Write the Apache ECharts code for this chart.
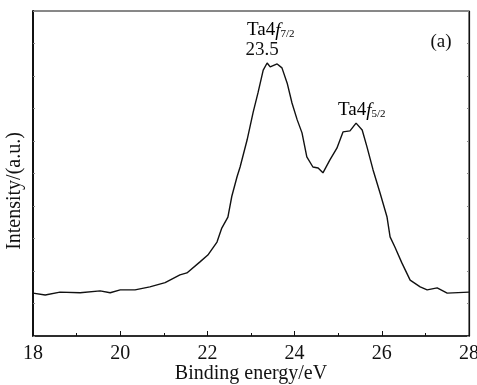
<!DOCTYPE html>
<html>
<head>
<meta charset="utf-8">
<script src="https://cdn.jsdelivr.net/npm/echarts@6/dist/echarts.min.js"></script>
<style>
html,body{margin:0;padding:0;background:#fff;}
#c{width:477px;height:385px;}
</style>
</head>
<body>
<div id="c"></div>
<script>
var energy = [18.00,18.28,18.62,19.08,19.54,19.77,20.00,20.34,20.68,21.03,21.14,21.37,21.53,21.83,22.01,22.22,22.33,22.47,22.56,22.68,22.75,22.91,23.05,23.16,23.28,23.37,23.44,23.60,23.71,23.83,23.94,24.06,24.17,24.28,24.42,24.54,24.65,24.81,24.97,25.11,25.27,25.41,25.55,25.66,25.80,25.96,26.12,26.19,26.30,26.46,26.65,26.88,27.04,27.27,27.50,28.00];
var intensity = [13.2,12.6,13.5,13.3,13.9,13.3,14.2,14.2,15.1,16.4,17.2,18.8,19.4,22.8,24.9,28.9,33.2,36.6,43.0,49.0,52.0,60.3,68.9,74.8,81.8,84.0,82.8,83.7,82.5,77.8,71.7,66.5,62.5,55.1,52.0,51.7,50.2,54.2,57.8,62.8,63.1,65.5,63.4,58.2,51.1,44.0,36.6,30.5,27.4,22.5,17.2,15.1,14.2,14.8,13.2,13.5];
var xTicks = [18,20,22,24,26,28];
var xTitle = 'Binding energy/eV';
var yTitle = 'Intensity/(a.u.)';

var font = '"Liberation Serif","Times New Roman",serif';
var chart = echarts.init(document.getElementById('c'));
var data = energy.map(function(e,i){return [e,intensity[i]];});
var rich = {
  n:{fontFamily:font,fontSize:19,color:'#111',lineHeight:20,verticalAlign:'bottom'},
  i:{fontFamily:font,fontSize:19,fontStyle:'italic',color:'#111',lineHeight:20,verticalAlign:'bottom'},
  s:{fontFamily:font,fontSize:11,color:'#111',lineHeight:6,verticalAlign:'bottom'}
};
chart.setOption({
  animation:false,
  grid:{left:33,right:8,top:11,bottom:49,show:true,borderColor:'#111',borderWidth:1,containLabel:false,outerBoundsMode:'none'},
  xAxis:[{
    type:'value',min:xTicks[0],max:xTicks[xTicks.length-1],interval:2,
    name:xTitle,nameLocation:'middle',nameGap:28,nameMoveOverlap:false,
    nameTextStyle:{fontFamily:font,fontSize:20,color:'#111',verticalAlign:'top',lineHeight:20},
    axisLine:{lineStyle:{color:'#111',width:1.5}},
    axisTick:{inside:true,length:5,lineStyle:{color:'#111'}},
    minorTick:{show:true,splitNumber:2,length:3,lineStyle:{color:'#111'}},
    axisLabel:{fontFamily:font,fontSize:20,color:'#111',margin:8},
    splitLine:{show:false}
  }],
  yAxis:[{
    type:'value',min:0,max:100,interval:10,
    axisLine:{show:true,lineStyle:{color:'#111',width:2}},
    axisTick:{show:true,inside:true,length:2,lineStyle:{color:'#888'}},
    axisLabel:{show:false},
    splitLine:{show:false}
  },{
    type:'value',min:0,max:100,interval:10,position:'right',
    axisLine:{show:true,lineStyle:{color:'#111',width:1.2}},
    axisTick:{show:true,inside:true,length:2,lineStyle:{color:'#888'}},
    axisLabel:{show:false},
    splitLine:{show:false}
  }],
  series:[{
    type:'line',data:data,showSymbol:false,smooth:false,
    lineStyle:{color:'#111',width:1.4}
  }],
  graphic:[
    {type:'text',x:15,y:191,rotation:Math.PI/2,
     style:{text:yTitle,fontFamily:font,fontSize:20,fill:'#111',textAlign:'center',textVerticalAlign:'middle'}},
    {type:'text',x:247,y:20,style:{text:'{n|Ta4}{i|f}{s|7/2}',rich:rich}},
    {type:'text',x:262,y:50,style:{text:'23.5',fontFamily:font,fontSize:19,fill:'#111',textAlign:'center',textVerticalAlign:'middle'}},
    {type:'text',x:338,y:100,style:{text:'{n|Ta4}{i|f}{s|5/2}',rich:rich}},
    {type:'text',x:441,y:42,style:{text:'(a)',fontFamily:font,fontSize:19,fill:'#111',textAlign:'center',textVerticalAlign:'middle'}}
  ]
});
</script>
</body>
</html>
